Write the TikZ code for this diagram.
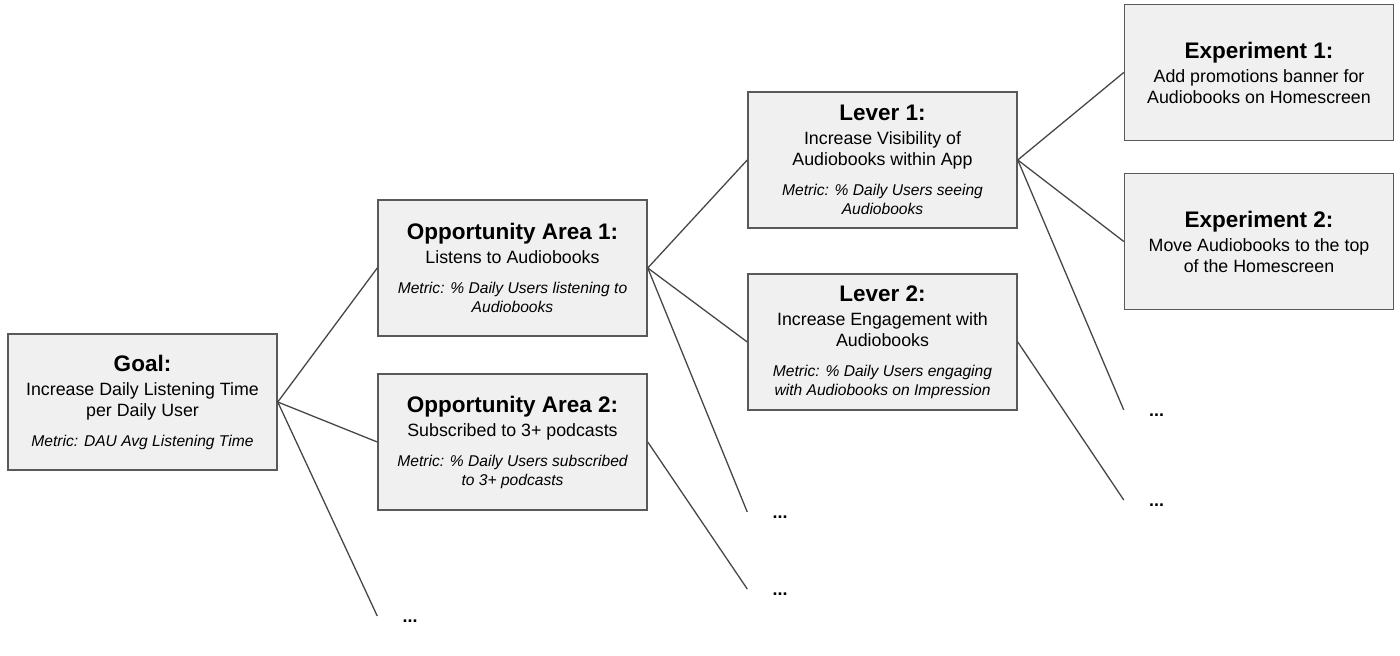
\documentclass[tikz,border=0pt]{standalone}
\usepackage{fontspec}
\setmainfont{Liberation Sans}
\usetikzlibrary{positioning}

\newcommand{\boxtitle}[1]{{\fontsize{11.25}{13}\selectfont\bfseries #1}}
\newcommand{\metric}[1]{{\fontsize{7.8}{9.5}\selectfont\itshape #1}}

\tikzset{
  card/.style={draw=black!65, line width=0.75pt, fill=black!6,
    minimum width=134.5pt, minimum height=68pt, inner sep=0pt,
    align=center, font=\fontsize{8.9}{11}\selectfont},
  link/.style={draw=black!72, line width=0.65pt},
  more/.style={font=\fontsize{8.9}{11}\selectfont\bfseries, inner sep=0pt, yshift=-2.5pt}
}

\begin{document}
\begin{tikzpicture}[node distance=185pt,on grid]
        \useasboundingbox (0,0) rectangle (700pt,328pt);
        \node[card] (goal) at (71.25pt,127pt)
          {\boxtitle{Goal:}\\[1pt] Increase Daily Listening Time\\[-0.5pt] per Daily User\\[4pt]
           \metric{Metric: DAU Avg Listening Time}};
        \node[card] (opp1) [above right=67pt and 185pt of goal]
          {\boxtitle{Opportunity Area 1:}\\[1pt] Listens to Audiobooks\\[4pt]
           \metric{Metric: \% Daily Users listening to}\\[-1.5pt] \metric{Audiobooks}};
        \node[card] (opp2) [below right=20pt and 185pt of goal]
          {\boxtitle{Opportunity Area 2:}\\[1pt] Subscribed to 3+ podcasts\\[4pt]
           \metric{Metric: \% Daily Users subscribed}\\[-1.5pt] \metric{to 3+ podcasts}};
        \node[card] (lever1) [above right=54pt and 185pt of opp1]
          {\boxtitle{Lever 1:}\\[1pt] Increase Visibility of\\[-0.5pt] Audiobooks within App\\[4pt]
           \metric{Metric: \% Daily Users seeing}\\[-1.5pt] \metric{Audiobooks}};
        \node[card] (lever2) [below right=37pt and 185pt of opp1]
          {\boxtitle{Lever 2:}\\[1pt] Increase Engagement with\\[-0.5pt] Audiobooks\\[4pt]
           \metric{Metric: \% Daily Users engaging}\\[-1.5pt] \metric{with Audiobooks on Impression}};
        \node[card] (exp1) [above right=43.75pt and 188.25pt of lever1]
          {\boxtitle{Experiment 1:}\\[1pt] Add promotions banner for\\[-0.5pt] Audiobooks on Homescreen};
        \node[card] (exp2) [below right=40.75pt and 188.25pt of lever1]
          {\boxtitle{Experiment 2:}\\[1pt] Move Audiobooks to the top\\[-0.5pt] of the Homescreen};
        % open branches
        \coordinate[below=87pt of opp2.west] (goal-more);
        \coordinate[below=85pt of lever2.west] (opp1-more);
        \coordinate[below=38.5pt of opp1-more] (opp2-more);
        \coordinate[below=84.25pt of exp2.west] (lever1-more);
        \coordinate[below=45pt of lever1-more] (lever2-more);
        \node[more] (goal-dots) [right=12.5pt of goal-more] {...};
        \node[more] (opp1-dots) [right=12.5pt of opp1-more] {...};
        \node[more] (opp2-dots) [right=12.5pt of opp2-more] {...};
        \node[more] (lever1-dots) [right=12.5pt of lever1-more] {...};
        \node[more] (lever2-dots) [right=12.5pt of lever2-more] {...};
         \path[link]
         (goal.east) edge (opp1.west)
                     edge (opp2.west)
                     edge (goal-more)
         (opp1.east) edge (lever1.west)
                     edge (lever2.west)
                     edge (opp1-more)
         (opp2.east) edge (opp2-more)
         (lever1.east) edge (exp1.west)
                       edge (exp2.west)
                       edge (lever1-more)
         (lever2.east) edge (lever2-more);
     \end{tikzpicture}
\end{document}
